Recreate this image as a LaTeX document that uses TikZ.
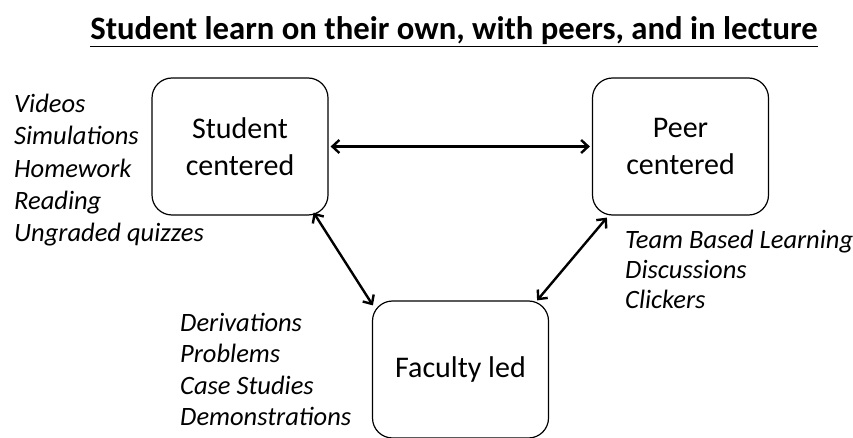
\documentclass[tikz,border=0pt]{standalone}
\usepackage{fontspec}
\setmainfont{Carlito}
\usepackage{tikz}
\usetikzlibrary{arrows.meta,positioning}

\tikzset{
  place/.style={draw, line width=1.2pt, rounded corners=20pt, minimum width=176pt,
    minimum height=137pt, inner sep=0pt, align=center,
    font=\fontsize{30}{37}\selectfont},
  itemlist/.style={anchor=north west, inner sep=0pt, align=left},
  link/.style={{Straight Barb[length=7pt,width=13pt]}-{Straight Barb[length=7pt,width=13pt]}, line width=2.4pt}
}

\begin{document}
\begin{tikzpicture}[x=1pt, y=-1pt]
\useasboundingbox (0,0) rectangle (853,438);
%%%%% Title %%%%%
\node (title) at (454,32) {\fontsize{32.7}{39}\selectfont\bfseries\underline{Student learn on their own, with peers, and in lecture}};
%%%%% Boxes %%%%%
\node[place] (stu) at (240,146.5) {Student\\centered};
\node[place] (peer) at (680.5,146.5) {Peer\\centered};
\node[place] (fac) at (460.5,369.5) {Faculty led};
%%%%% Arrows %%%%%
\draw[link] ([xshift=2pt]stu.east) -- ([xshift=-2pt]peer.west);
\draw[link] ([xshift=-15pt,yshift=3pt]stu.south east) -- ([xshift=1pt,yshift=-5pt]fac.north west);
\draw[link] ([xshift=-12pt]fac.north east) -- ([xshift=15pt,yshift=-2pt]peer.south west);
%%%%% Lists %%%%%
\node[itemlist, font=\fontsize{26.5}{32.3}\itshape] (own) at (14,94)
  {Videos\\Simulations\\Homework\\Reading\\Ungraded quizzes};
\node[itemlist, font=\fontsize{26.5}{30}\itshape] (team) at (625,230)
  {Team Based Learning\\Discussions\\Clickers};
\node[itemlist, font=\fontsize{26.5}{31.3}\itshape] (lect) at (180,313)
  {Derivations\\Problems\\Case Studies\\Demonstrations};
\end{tikzpicture}
\end{document}
